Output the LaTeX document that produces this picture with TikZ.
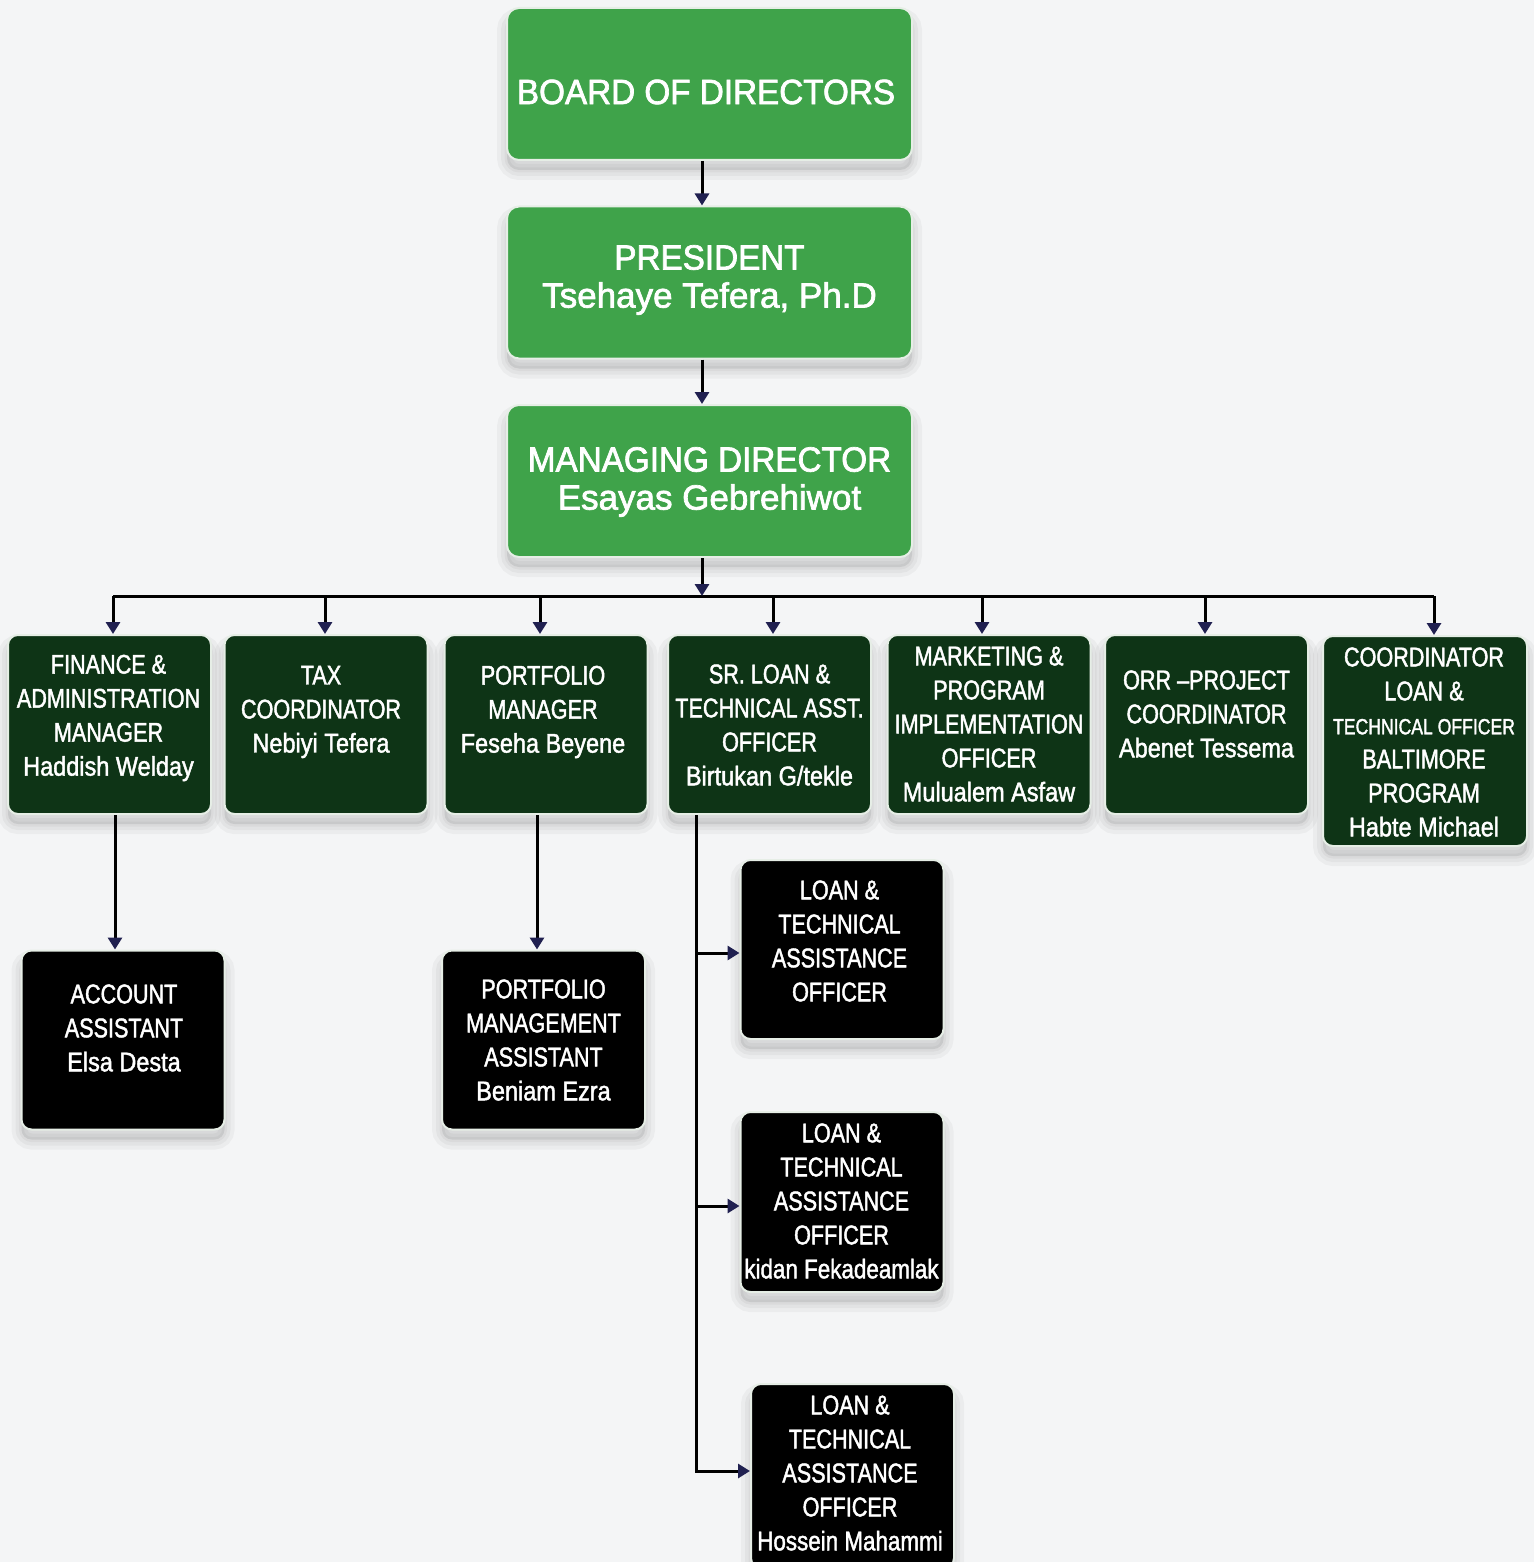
\documentclass[tikz,border=0pt]{standalone}
\usepackage{fontspec}
\setmainfont{Liberation Sans}
\newfontfamily\topfont[FakeStretch=0.95,FakeBold=2]{Liberation Sans}
\newfontfamily\topname[FakeStretch=1.0,FakeBold=2]{Liberation Sans}
\newfontfamily\condfont[FakeStretch=0.8,FakeBold=1.6]{Liberation Sans}
\newfontfamily\condname[FakeStretch=0.87,FakeBold=1.6]{Liberation Sans}
\newfontfamily\condnarrow[FakeStretch=0.83,FakeBold=1.6]{Liberation Sans}
\usetikzlibrary{arrows.meta,calc}
\definecolor{bgc}{HTML}{F4F5F6}
\definecolor{topgreen}{HTML}{3FA34A}
\definecolor{darkgreen}{HTML}{0E3416}
\definecolor{navyc}{HTML}{202050}
\definecolor{edgec}{HTML}{E6EEE6}
\begin{document}
\begin{tikzpicture}[x=0.5pt,y=-0.5pt,
 shad/.style={
   preaction={fill=black,fill opacity=0.08,draw=black,draw opacity=0.035,line width=10pt,transform canvas={yshift=-5pt}},
   preaction={draw=black,draw opacity=0.035,line width=6pt,transform canvas={yshift=-5pt}},
   preaction={draw=black,draw opacity=0.035,line width=2.5pt,transform canvas={yshift=-5pt}}},
 topbox/.style={shad,draw=edgec,line width=1pt,fill=topgreen,rounded corners=6pt,minimum width=202.5pt,minimum height=76pt,inner sep=0pt},
 greenbox/.style={shad,draw=edgec,line width=1pt,fill=darkgreen,rounded corners=5pt,minimum width=101.5pt,minimum height=89.5pt,inner sep=0pt},
 blackbox/.style={greenbox,fill=black},
 toptext/.style={text=white,align=center,font=\topfont\fontsize{17.5}{19}\selectfont,inner sep=0pt},
 boxtext/.style={text=white,align=center,font=\condfont\fontsize{13.5}{17}\selectfont,inner sep=0pt},
 link/.style={line width=1.5pt,draw=black},
 arr/.style={link,-{Triangle[width=7pt,length=6pt,color=navyc]}},
]
\useasboundingbox (0,0) rectangle (1534,1562);
\clip (0,0) rectangle (1534,1562);
\fill[bgc] (0,0) rectangle (1534,1562);

% top boxes
\node[topbox] (board) at (709.5,84) {};
\node[toptext] (boardT) at (706,92) {BOARD OF DIRECTORS};
\node[topbox] (pres) at (709.5,282.5) {};
\node[toptext] (presT) at (709.5,280) {PRESIDENT\\{\topname Tsehaye Tefera, Ph.D}};
\node[topbox] (md) at (709.5,481) {};
\node[toptext] (mdT) at (709.5,482) {MANAGING DIRECTOR\\{\topname Esayas Gebrehiwot}};

% second level
\node[greenbox] (fin) at (109.5,724.5) {};
\node[boxtext] (finT) at (108.5,718) {FINANCE \&\\ADMINISTRATION\\MANAGER\\{\condname Haddish Welday}};
\node[greenbox] (tax) at (326,724.5) {};
\node[boxtext] (taxT) at (321,712) {TAX\\COORDINATOR\\{\condname Nebiyi Tefera}};
\node[greenbox] (port) at (546,724.5) {};
\node[boxtext] (portT) at (543,712) {PORTFOLIO\\MANAGER\\{\condname Feseha Beyene}};
\node[greenbox] (sr) at (769.5,724.5) {};
\node[boxtext] (srT) at (769.5,725) {SR. LOAN \&\\TECHNICAL ASST.\\OFFICER\\{\condname Birtukan G/tekle}};
\node[greenbox] (mkt) at (989,724.5) {};
\node[boxtext] (mktT) at (989,724) {MARKETING \&\\PROGRAM\\IMPLEMENTATION\\OFFICER\\{\condname Mulualem Asfaw}};
\node[greenbox] (orr) at (1206.5,724.5) {};
\node[boxtext] (orrT) at (1206.5,714) {ORR –PROJECT\\COORDINATOR\\{\condname Abenet Tessema}};
\node[greenbox,minimum width=102pt,minimum height=105pt] (coord) at (1425,741) {};
\node[boxtext] (coordT) at (1424,742) {COORDINATOR\\LOAN \&\\{\fontsize{11}{17}\selectfont TECHNICAL OFFICER}\\BALTIMORE\\PROGRAM\\{\condname Habte Michael}};

% third level
\node[blackbox] (acc) at (123,1040) {};
\node[boxtext] (accT) at (124,1028) {ACCOUNT\\ASSISTANT\\{\condname Elsa Desta}};
\node[blackbox] (pma) at (543.5,1040) {};
\node[boxtext] (pmaT) at (543.5,1040) {PORTFOLIO\\MANAGEMENT\\ASSISTANT\\{\condname Beniam Ezra}};
\node[blackbox] (lo1) at (842,949.5) {};
\node[boxtext] (lo1T) at (839.5,941) {LOAN \&\\TECHNICAL\\ASSISTANCE\\OFFICER};
\node[blackbox,minimum height=90pt] (lo2) at (842,1202) {};
\node[boxtext] (lo2T) at (841.5,1201) {LOAN \&\\TECHNICAL\\ASSISTANCE\\OFFICER\\{\condnarrow kidan Fekadeamlak}};
\node[blackbox,minimum height=92pt] (lo3) at (852.5,1476) {};
\node[boxtext] (lo3T) at (850,1473) {LOAN \&\\TECHNICAL\\ASSISTANCE\\OFFICER\\{\condnarrow Hossein Mahammi}};

% connector coordinates
\coordinate (ax) at (702,0);
\coordinate (mdx) at (702,596);
\coordinate (b1) at (113,596);
\coordinate (b2) at (325,596);
\coordinate (b3) at (540,596);
\coordinate (b4) at (773,596);
\coordinate (b5) at (982,596);
\coordinate (b6) at (1205,596);
\coordinate (b7) at (1434,596);
\coordinate (fx) at (115,0);
\coordinate (px) at (537,0);
\coordinate (sx) at (696,0);
\coordinate (s1) at (696,953);
\coordinate (s2) at (696,1206);
\coordinate (s3) at (696,1471);

% connectors
\draw[arr] (board.south -| ax) -- (pres.north -| ax);
\draw[arr] (pres.south -| ax) -- (md.north -| ax);
\draw[link] (b1) -- (b7);
\draw[arr] (md.south -| ax) -- (mdx);
\draw[arr] (b1) -- (b1 |- fin.north);
\draw[arr] (b2) -- (b2 |- tax.north);
\draw[arr] (b3) -- (b3 |- port.north);
\draw[arr] (b4) -- (b4 |- sr.north);
\draw[arr] (b5) -- (b5 |- mkt.north);
\draw[arr] (b6) -- (b6 |- orr.north);
\draw[arr] (b7) -- (b7 |- coord.north);
\draw[arr] (fin.south -| fx) -- (acc.north -| fx);
\draw[arr] (port.south -| px) -- (pma.north -| px);
\draw[arr] (sr.south -| sx) -- (s3) -- (s3 -| lo3.west);
\draw[arr] (s1) -- (s1 -| lo1.west);
\draw[arr] (s2) -- (s2 -| lo2.west);
\end{tikzpicture}
\end{document}
